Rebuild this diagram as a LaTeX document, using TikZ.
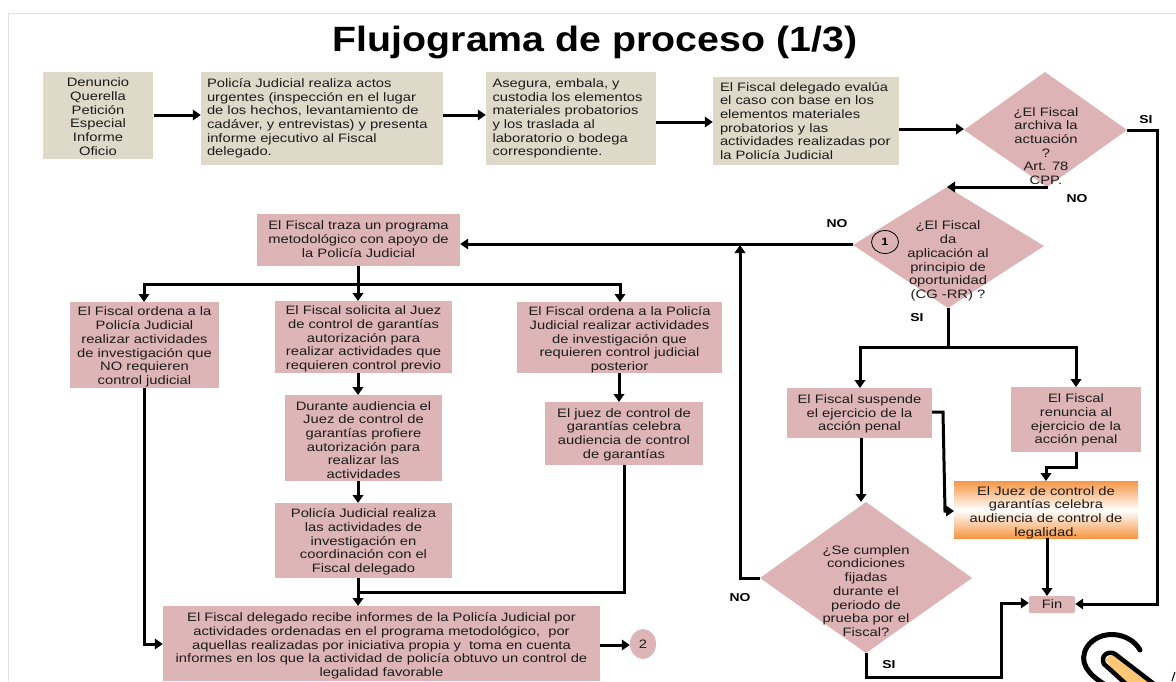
\documentclass[tikz,border=0pt]{standalone}
\usepackage{fontspec}
\setmainfont[FakeStretch=1.21]{Liberation Sans}
\newfontfamily\titlefont[FakeStretch=1.12]{Liberation Sans}
\usetikzlibrary{arrows.meta,shapes.geometric,calc}
\definecolor{beigebox}{HTML}{DFD9CA}
\definecolor{rosebox}{HTML}{DDB5B6}
\definecolor{roseshape}{HTML}{DDB3B5}
\definecolor{orangeedge}{HTML}{F79646}
\definecolor{framegrey}{HTML}{E2E2E2}
\definecolor{txt}{HTML}{1C1C1C}
\definecolor{penfill}{HTML}{FFC876}
\tikzset{
  x=1pt,y=-1pt,
  every node/.style={font=\fontsize{12.2}{13.7}\selectfont,text=txt,inner sep=0pt,align=center},
  beige/.style={fill=beigebox},
  rose/.style={fill=rosebox},
  flow/.style={draw=black,line width=3pt,-{Triangle[length=8pt,width=10.5pt]}},
  plainline/.style={draw=black,line width=3pt},
  lbl/.style={font=\fontsize{11.5}{13}\selectfont\bfseries,text=black},
  penline/.style={draw=black,line width=5pt,line cap=round},
}
\newcommand{\boxat}[8][0]{% [text dy] name style x1 y1 x2 y2 text
  \fill[#3] (#4,#5) rectangle (#6,#7);
  \node[text width=#6pt-#4pt] (#2) at ({(#4+#6)/2},{(#5+#7)/2+#1}) [minimum width=#6pt-#4pt] {#8};
}
\begin{document}
\begin{tikzpicture}
\useasboundingbox (0,0) rectangle (1176,681);
\fill[white] (0,0) rectangle (1176,681);
\draw[framegrey,line width=1.5pt] (8.5,681) -- (8.5,13.5) -- (1176,13.5);
\node[font=\titlefont\fontsize{35.1}{38}\selectfont\bfseries,text=black] (title) at (595,42) {Flujograma de proceso (1/3)};

\boxat[1]{den}{beige}{43}{72}{153}{159}{Denuncio\\Querella\\Petición\\Especial\\Informe\\Oficio}
\fill[beige] (201,72) rectangle (443,165);
\node[align=left,text width=230pt] (pol) at (322,118.5) [minimum width=242pt,minimum height=93pt] {Policía Judicial realiza actos\\urgentes (inspección en el lugar\\de los hechos, levantamiento de\\cadáver, y entrevistas) y presenta\\informe ejecutivo al Fiscal\\delegado.};
\fill[beige] (486,72) rectangle (656,165);
\node[align=left,text width=157pt] (ase) at (571,118.5) [minimum width=170pt,minimum height=93pt] {Asegura, embala, y\\custodia los elementos\\materiales probatorios\\y los traslada al\\laboratorio o bodega\\correspondiente.};
\fill[beige] (713,77) rectangle (899,165);
\node[align=left,text width=172pt] (eva) at (806,121) [minimum width=186pt,minimum height=88pt] {El Fiscal delegado evalúa\\el caso con base en los\\elementos materiales\\probatorios y las\\actividades realizadas por\\la Policía Judicial};

\fill[roseshape] (964,130) -- (1045,72) -- (1127,130) -- (1047,187) -- cycle;
\node (d1) at (1046,146) {¿El Fiscal\\archiva la\\actuación\\?\\Art. 78\\CPP.};
\coordinate (d1r) at (1127,130);
\coordinate (d1b) at (1048,187);
\fill[roseshape] (853,245) -- (947,187) -- (1044,246) -- (948,308) -- cycle;
\node (d2) at (948,261) {¿El Fiscal\\da\\aplicación al\\principio de\\oportunidad\\(CG -RR) ?};
\coordinate (d2l) at (853,244);
\coordinate (d2t) at (947,187);
\coordinate (d2b) at (948,308);
\fill[roseshape] (760,578) -- (866,502) -- (972,578) -- (866,653) -- cycle;
\node (d3) at (866,591) {¿Se cumplen\\condiciones\\fijadas\\durante el\\periodo de\\prueba por el\\Fiscal?};
\coordinate (d3l) at (760,578);
\coordinate (d3t) at (861,502);
\coordinate (d3b) at (866,653);

\boxat[-1]{traza}{rose}{257}{214}{460}{266}{El Fiscal traza un programa\\metodológico con apoyo de\\la Policía Judicial}
\boxat[2]{ordena}{rose}{70}{302}{219}{388}{El Fiscal ordena a la\\Policía Judicial\\realizar actividades\\de investigación que\\NO requieren\\control judicial}
\boxat[2]{solicita}{rose}{275}{301}{452}{373}{El Fiscal solicita al Juez\\de control de garantías\\autorización para\\realizar actividades que\\requieren control previo}
\boxat[2.5]{ordenb}{rose}{517}{302}{722}{373}{El Fiscal ordena a la Policía\\Judicial realizar actividades\\de investigación que\\requieren control judicial\\posterior}
\boxat[2]{durante}{rose}{285}{395}{442}{481}{Durante audiencia el\\Juez de control de\\garantías profiere\\autorización para\\realizar las\\actividades}
\boxat[1.5]{polb}{rose}{275}{503}{452}{578}{Policía Judicial realiza\\las actividades de\\investigación en\\coordinación con el\\Fiscal delegado}
\boxat[1]{juez}{rose}{545}{402}{703}{465}{El juez de control de\\garantías celebra\\audiencia de control\\de garantías}
\boxat[2.5]{recibe}{rose}{163}{606}{600}{681}{El Fiscal delegado recibe informes de la Policía Judicial por\\actividades ordenadas en el programa metodológico,\ \ por\\aquellas realizadas por iniciativa propia y\ \ toma en cuenta\\informes en los que la actividad de policía obtuvo un control de\\legalidad favorable}
\boxat[1]{suspende}{rose}{787}{388}{932}{438}{El Fiscal suspende\\el ejercicio de la\\acción penal}
\boxat[0.5]{renuncia}{rose}{1011}{387}{1141}{452}{El Fiscal\\renuncia al\\ejercicio de la\\acción penal}

\fill[top color=orangeedge,bottom color=white] (954,481) rectangle (1138,510);
\fill[bottom color=orangeedge,top color=white] (954,510) rectangle (1138,538);
\node[text width=184pt] (legal) at (1046,512.5) [minimum width=184pt] {El Juez de control de\\garantías celebra\\audiencia de control de\\legalidad.};

\node[fill=rosebox,rounded corners=2pt,minimum width=46pt,minimum height=17pt] (fin) at (1052,604.5) {Fin};
\node[fill=rosebox,ellipse,minimum width=26pt,minimum height=30pt] (dos) at (643,644) {2};

% connectors
\draw[flow] (154,115) -- (pol.west |- 0,115);
\draw[flow] (pol.east |- 0,115) -- (ase.west |- 0,115);
\draw[flow] (ase.east |- 0,122) -- (eva.west |- 0,122);
\draw[flow] (eva.east |- 0,129) -- (964,129);
\draw[flow] (d1r) -- (1157,130) -- (1157,604) -- (fin.east |- 0,604);
\draw[flow] (d1b) -- (d2t);
\draw[flow] (d2l) -- (traza.east |- d2l);
\draw[plainline] (358,266) -- (358,284);
\draw[flow] (358,284) -- (144,284) -- (144,302);
\draw[flow] (358,284) -- (620,284) -- (620,302);
\draw[flow] (358,284) -- (358,301);
\draw[flow] (144,388) -- (144,644) -- (recibe.west |- 0,644);
\draw[flow] (358,373) -- (358,395);
\draw[flow] (358,481) -- (358,503);
\draw[flow] (358,578) -- (358,606);
\draw[flow] (619,373) -- (619,402);
\draw[plainline,line join=miter] (624,465) -- (624,592) -- (358,592);
\draw[flow] (recibe.east |- 0,645) -- (dos.west |- 0,645);
\draw[plainline] (d2b) -- (948,347);
\draw[flow] (948,347) -- (860,347) -- (860,388);
\draw[flow] (948,347) -- (1076,347) -- (1076,387);
\draw[flow] (861,438) -- (d3t);
\draw[flow] (932,412) -- (943,412) -- (945,511) -- (954,511);
\draw[flow] (1076,452) -- (1076,467) -- (1046,467) -- (1046,481);
\draw[flow] (1047,538) -- (1047,596);
\draw[flow] (d3l) -- (740,578) -- (740,245);
\draw[flow] (d3b) -- (866,677) -- (1001,677) -- (1001,603) -- (fin.west |- 0,603);

\node[draw=black,line width=0.8pt,ellipse,minimum width=27pt,minimum height=23pt,font=\fontsize{10.5}{12}\selectfont\bfseries,text=black] (uno) at (885,242) {1};

% labels
\node[lbl] (si1) at (1146,120) {SI};
\node[lbl] (no1) at (1077,199) {NO};
\node[lbl] (no2) at (837,224) {NO};
\node[lbl] (si2) at (917,318) {SI};
\node[lbl] (no3) at (740,598) {NO};
\node[lbl] (si3) at (889,665) {SI};

% pencil icon in the corner
\begin{scope}
\clip (0,0) rectangle (1176,681);
\fill[penfill] (1106,660) .. controls (1108,655) and (1112,654) .. (1116,657) -- (1150,684) -- (1122,684) -- cycle;
\draw[penline,line width=4.5pt,line join=round] (1126,684) -- (1104,664) .. controls (1100,656) and (1108,650) .. (1115,654) -- (1154,684);
\draw[penline] (1140,650) .. controls (1130,632) and (1100,628) .. (1087,647) .. controls (1078,662) and (1088,674) .. (1104,684);
\draw[black,line width=1pt] (1172,681) -- (1175,672);
\end{scope}
\end{tikzpicture}
\end{document}
